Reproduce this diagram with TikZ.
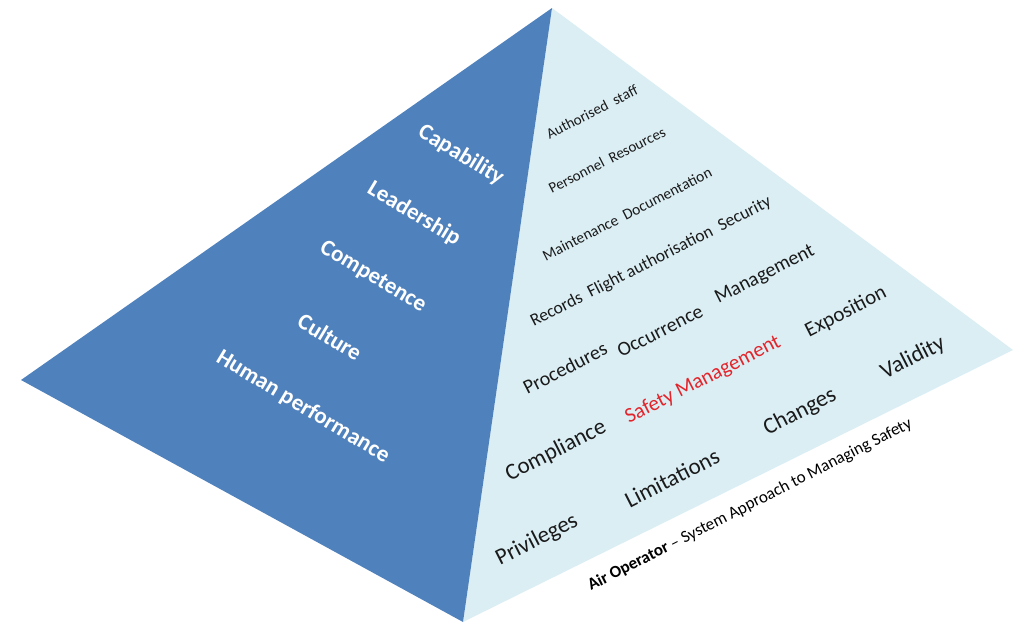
\documentclass[tikz,border=0pt]{standalone}
\usepackage{fontspec}
\setmainfont{Carlito}
\definecolor{darkface}{HTML}{4F81BD}
\definecolor{lightface}{HTML}{DBEEF4}
\definecolor{redtext}{HTML}{E3242B}
\definecolor{darktext}{HTML}{1A1A1A}
\tikzset{
  lefttxt/.style={text=white, font=\bfseries\fontsize{23}{23}\selectfont, rotate=-31, inner sep=0pt},
  righttxt/.style={text=darktext, rotate=27, inner sep=0pt},
  small/.style={font=\fontsize{15}{15}\selectfont},
  smallb/.style={font=\fontsize{15.5}{15.5}\selectfont},
  medium/.style={font=\fontsize{17.5}{17.5}\selectfont},
  large/.style={font=\fontsize{20}{20}\selectfont},
  largeb/.style={font=\fontsize{21}{21}\selectfont},
  xlarge/.style={font=\fontsize{23}{23}\selectfont},
  note/.style={font=\fontsize{17}{17}\selectfont},
}
\begin{document}
\begin{tikzpicture}[x=1pt,y=-1pt]
\useasboundingbox (0,0) rectangle (1026,626);
\coordinate (apex) at (552,8);
\coordinate (lc) at (21,380);
\coordinate (bc) at (463,622);
\coordinate (rc) at (1013,350);
\fill[lightface] (apex) -- (bc) -- (rc) -- cycle;
\fill[darkface] (apex) -- (lc) -- (bc) -- cycle;
% left face
\node[lefttxt] (cap) at (461,155) {Capability};
\node[lefttxt] (lead) at (414,214) {Leadership};
\node[lefttxt] (comp) at (373,277) {Competence};
\node[lefttxt] (cult) at (330,337) {Culture};
\node[lefttxt] (hum) at (303,407) {Human performance};
% right face
\node[righttxt,small] (auth) at (592,112) {Authorised\ \ staff};
\node[righttxt,small] (pers) at (607,160) {Personnel\ \ Resources};
\node[righttxt,smallb] (maint) at (627,214) {Maintenance\ \ Documentation};
\node[righttxt,medium] (rec) at (651,262) {Records\ \ Flight authorisation\ \ Security};
\node[righttxt,large] (proc) at (565,368) {Procedures};
\node[righttxt,large] (occ) at (660,331) {Occurrence};
\node[righttxt,large] (mgmt) at (765,275) {Management};
\node[righttxt,largeb] (expo) at (846,312) {Exposition};
\node[righttxt,largeb,text=redtext] (sm) at (703,380) {Safety Management};
\node[righttxt,xlarge] (valid) at (913,358) {Validity};
\node[righttxt,xlarge] (compl) at (556,451) {Compliance};
\node[righttxt,xlarge] (chg) at (800,412) {Changes};
\node[righttxt,xlarge] (lim) at (672,478) {Limitations};
\node[righttxt,xlarge] (priv) at (537,540) {Privileges};
\node[righttxt,note,text=black] (air) at (750,505) {\textbf{Air Operator} -- System Approach to Managing Safety};
\end{tikzpicture}
\end{document}
